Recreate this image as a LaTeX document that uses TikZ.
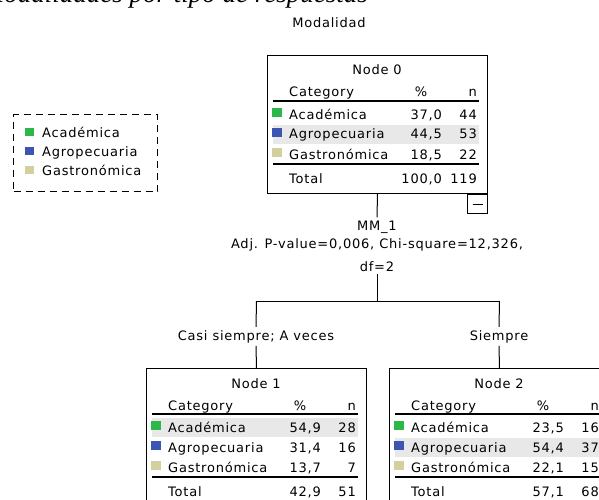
\documentclass[tikz,border=0pt]{standalone}
\usepackage{fontspec}
\newfontfamily\spssfont[LetterSpace=6]{DejaVu Sans}
\newfontfamily\capfont{Liberation Serif}
\definecolor{acad}{RGB}{44,184,72}
\definecolor{agro}{RGB}{60,85,178}
\definecolor{gastro}{RGB}{212,207,158}
\definecolor{band}{RGB}{232,232,232}

\newcommand\catnode[7]{%
  \begin{scope}[shift={#2}]
    \fill[band] (6,{30+20*#4}) rectangle (212,{49+20*#4});
    \node[nodebox] (#1) at (0,0) {};
    \node[anchor=base] (#1title) at (110,20) {#3};
    \node[anchor=base west] (#1cat) at (22,42) {Category};
    \node[anchor=base] (#1pct) at (154,42) {\%};
    \node[anchor=base east] (#1n) at (210,42) {n};
    \draw[rule] (6,46) -- (212,46);
    \foreach \col/\lab/\pct/\num [count=\i] in {#5} {
      \fill[\col] (5,{33+20*\i}) rectangle (15,{42+20*\i});
      \node[anchor=base west] (#1lab\i) at (22,{44+20*\i}) {\lab};
      \node[anchor=base east] (#1pct\i) at (175,{44+20*\i}) {\pct};
      \node[anchor=base east] (#1num\i) at (210,{44+20*\i}) {\num};
    }
    \draw[rule] (6,109) -- (212,109);
    \node[anchor=base west] (#1total) at (22,128) {Total};
    \node[anchor=base east] (#1totpct) at (175,128) {#6};
    \node[anchor=base east] (#1totnum) at (210,128) {#7};
  \end{scope}}

\begin{document}
\begin{tikzpicture}[x=1pt,y=-1pt,
  every node/.style={inner sep=0pt,font=\spssfont\fontsize{13}{15}\selectfont},
  nodebox/.style={draw,line width=1pt,minimum width=220pt,minimum height=138pt,anchor=north west},
  rule/.style={line width=1.2pt},
  link/.style={line width=1pt},
  branch/.style={anchor=base,inner sep=3pt},
  legendbox/.style={draw,line width=1.2pt,dash pattern=on 7pt off 5pt,minimum width=144pt,minimum height=77pt,anchor=north west}]
\useasboundingbox (0,0) rectangle (599,500);
\clip (0,0) rectangle (599,500);

\node[anchor=base east,font=\capfont\itshape\fontsize{27}{30}\selectfont] (caption) at (368,3) {Modalidades por tipo de respuestas};
\node[anchor=base] (target) at (329,28) {Modalidad};

\node[legendbox] (legend) at (13,114) {};
\foreach \col/\lab [count=\i] in {acad/Académica,agro/Agropecuaria,gastro/Gastronómica} {
  \fill[\col] (25,{109+19*\i}) rectangle (34,{117+19*\i});
  \node[anchor=base west] (leg\i) at (42,{118+19*\i}) {\lab};
}

\catnode{n0}{(267,55)}{Node 0}{2}{acad/Académica/{37,0}/44,agro/Agropecuaria/{44,5}/53,gastro/Gastronómica/{18,5}/22}{100,0}{119}
\catnode{n1}{(146,368)}{Node 1}{1}{acad/Académica/{54,9}/28,agro/Agropecuaria/{31,4}/16,gastro/Gastronómica/{13,7}/7}{42,9}{51}
\catnode{n2}{(389,368)}{Node 2}{2}{acad/Académica/{23,5}/16,agro/Agropecuaria/{54,4}/37,gastro/Gastronómica/{22,1}/15}{57,1}{68}

\node[draw,line width=1pt,minimum width=20pt,minimum height=19pt,anchor=north east] (collapse) at (n0.south east) {};
\draw[line width=1pt] ([xshift=-5pt]collapse.center) -- ([xshift=5pt]collapse.center);

\node[branch] (split) at (377,230) {MM\_1};
\node[branch] (splitstat) at (377,248) {Adj. P-value=0,006, Chi-square=12,326,};
\node[branch] (splitdf) at (377,271) {df=2};
\coordinate (fork) at (377,301);
\coordinate (forkl) at (n1.north |- fork);
\coordinate (forkr) at (n2.north |- fork);
\node[branch] (lab1) at (256,340) {Casi siempre; A veces};
\node[branch] (lab2) at (499,340) {Siempre};

\draw[link] (n0.south) -- (split.north);
\draw[link] (splitdf.south) -- (fork);
\draw[link] (forkl) -- (forkr);
\draw[link] (forkl) -- (lab1.north);
\draw[link] (forkr) -- (lab2.north);
\draw[link] (lab1.south) -- (n1.north);
\draw[link] (lab2.south) -- (n2.north);
\end{tikzpicture}
\end{document}
